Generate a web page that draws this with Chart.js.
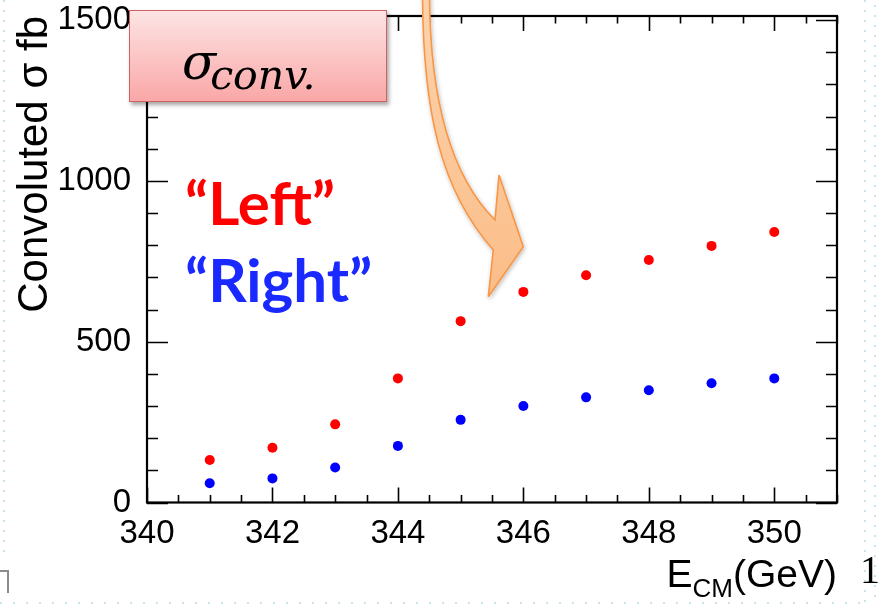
<!DOCTYPE html>
<html>
<head>
<meta charset="utf-8">
<script src="https://cdn.jsdelivr.net/npm/chart.js@4/dist/chart.umd.min.js"></script>
<style>
  html, body { margin: 0; padding: 0; background: #fff; }
  #wrap { position: relative; width: 885px; height: 605px; overflow: hidden; }
  #wrap canvas { position: absolute; left: 0; top: 0; }
  .dots-v { position: absolute; width: 2px;
    background: repeating-linear-gradient(to bottom, #c9e3ec 0 2px, transparent 2px 10px); }
  .dots-h { position: absolute; height: 2px;
    background: repeating-linear-gradient(to right, #c9e3ec 0 2px, transparent 2px 13px); }
  #sigmaBox { position: absolute; left: 129px; top: 10px; width: 256px; height: 90px;
    border: 1.5px solid #cd6262;
    background: linear-gradient(to bottom, #fde4e4, #faa7a7);
    box-shadow: 2px 3px 4px rgba(0,0,0,0.35); }
  #sigmaText { position: absolute; left: 52px; top: 26px; line-height: 1;
    font-family: "DejaVu Serif", serif; font-style: italic; font-size: 50px; color: #000; white-space: nowrap; }
  #sigmaText .sub { font-size: 41px; position: relative; top: 10px; margin-left: -6px; }
  .label { position: absolute; font-family: Lato, sans-serif; font-weight: bold;
    font-size: 60px; line-height: 1; white-space: nowrap; }
  #xTitle { position: absolute; right: 48px; top: 554px; line-height: 1;
    font-family: "Liberation Sans", Arial, sans-serif; font-size: 39px; white-space: nowrap; }
  #xTitle .sub { font-size: 26px; position: relative; top: 10px; }
  #pageNo { position: absolute; left: 860px; top: 550px; line-height: 1;
    font-family: "Liberation Serif", serif; font-size: 40px; }
  #corner { position: absolute; left: 0; top: 570px; width: 7px; height: 21px;
    border-top: 2px solid #8c8c8c; border-right: 2px solid #8c8c8c; }
</style>
</head>
<body>
<div id="wrap">
  <canvas id="chart" width="885" height="605"></canvas>

  <div class="dots-v" style="left:3px; top:0; height:560px;"></div>
  <div class="dots-v" style="left:864px; top:0; height:605px;"></div>
  <div class="dots-v" style="left:874px; top:5px; height:600px;"></div>
  <div class="dots-h" style="left:0; top:602px; width:860px;"></div>
  <div id="corner"></div>

  <div class="label" id="leftLabel" style="left:185px; top:172px; color:#ff0000;">“Left”</div>
  <div class="label" id="rightLabel" style="left:185px; top:249px; color:#1a29ff;">“Right”</div>

  <svg width="885" height="605" style="position:absolute; left:0; top:0;">
    <defs>
      <linearGradient id="arrowFill" x1="0" y1="0" x2="0" y2="1">
        <stop offset="0" stop-color="#fcd3ad"/>
        <stop offset="1" stop-color="#fbbd88"/>
      </linearGradient>
      <filter id="shadow" x="-20%" y="-20%" width="140%" height="140%">
        <feDropShadow dx="1" dy="2" stdDeviation="2" flood-color="#000" flood-opacity="0.25"/>
      </filter>
    </defs>
    <path d="M422.5,-5 C423,110 440,190 493.3,250 L488.3,296.7 L523.3,246.7 L499,175 L495,220 C455,180 430,110 429.5,-5 Z"
          fill="url(#arrowFill)" stroke="#f79646" stroke-width="1.6" stroke-linejoin="miter" filter="url(#shadow)"/>
  </svg>

  <div id="sigmaBox">
    <div id="sigmaText">σ<span class="sub">conv.</span></div>
  </div>

  <div id="xTitle">E<span class="sub">CM</span>(GeV)</div>
  <div id="pageNo">1</div>
</div>

<script>
// centre-of-mass energies (GeV)
const energies = [341, 342, 343, 344, 345, 346, 347, 348, 349, 350];
// convoluted cross sections (fb)
const sigmaLeft  = [132, 170, 243, 386, 564, 655, 707, 754, 798, 841];
const sigmaRight = [ 60,  75, 109, 176, 257, 300, 327, 349, 371, 386];

const xTickLabels = [340, 342, 344, 346, 348, 350];
const yTickLabels = [0, 500, 1000, 1500];

const toPoints = vals => energies.map((e, i) => ({ x: e, y: vals[i] }));

// ROOT style frame with inward ticks on all four sides
const frameTicks = {
  id: 'frameTicks',
  beforeDatasetsDraw(chart) {
    const { ctx, chartArea: a, scales: { x, y } } = chart;
    ctx.save();
    ctx.strokeStyle = '#000';
    ctx.lineWidth = 2.2;
    ctx.strokeRect(a.left, a.top, a.right - a.left, a.bottom - a.top);
    ctx.lineWidth = 1.6;
    ctx.beginPath();
    x.ticks.forEach(t => {
      if (Math.abs(t.value * 2 - Math.round(t.value * 2)) > 1e-6) return;
      const px = Math.round(x.getPixelForValue(t.value)) + 0.5;
      const len = xTickLabels.includes(t.value) ? 15 : 7.5;
      ctx.moveTo(px, a.bottom); ctx.lineTo(px, a.bottom - len);
      ctx.moveTo(px, a.top); ctx.lineTo(px, a.top + len);
    });
    y.ticks.forEach(t => {
      if (t.value % 100 !== 0) return;
      const py = Math.round(y.getPixelForValue(t.value)) + 0.5;
      const len = yTickLabels.includes(t.value) ? 21 : 11;
      ctx.moveTo(a.left, py); ctx.lineTo(a.left + len, py);
      ctx.moveTo(a.right, py); ctx.lineTo(a.right - len, py);
    });
    ctx.stroke();
    ctx.restore();
  }
};

const tickFont = { family: '"Liberation Sans", Arial, sans-serif', size: 33 };

new Chart(document.getElementById('chart'), {
  type: 'scatter',
  data: {
    datasets: [
      { label: 'Left', data: toPoints(sigmaLeft), backgroundColor: '#ff0000', borderWidth: 0, pointRadius: 5 },
      { label: 'Right', data: toPoints(sigmaRight), backgroundColor: '#0000ff', borderWidth: 0, pointRadius: 5 }
    ]
  },
  options: {
    responsive: false,
    animation: false,
    layout: { padding: { top: 16, right: 48, left: 0, bottom: 0 } },
    plugins: { legend: { display: false }, tooltip: { enabled: false } },
    scales: {
      x: {
        type: 'linear', min: 340, max: 351,
        grid: { display: false, drawTicks: false },
        border: { display: false },
        ticks: {
          stepSize: 0.5, autoSkip: false, maxRotation: 0, minRotation: 0, includeBounds: false,
          padding: 12, color: '#000', font: tickFont,
          callback: v => xTickLabels.includes(v) ? String(v) : ''
        },
        afterFit: s => { s.height = 102.5; s.paddingLeft = 0; s.paddingRight = 0; }
      },
      y: {
        type: 'linear', min: 0, max: 1513,
        grid: { display: false, drawTicks: false },
        border: { display: false },
        ticks: {
          stepSize: 100, autoSkip: false, includeBounds: false, padding: 16, color: '#000', font: tickFont,
          callback: v => yTickLabels.includes(v) ? String(v) : ''
        },
        title: {
          display: true, text: 'Convoluted σ fb', align: 'end', color: '#000',
          font: { family: '"Liberation Sans", Arial, sans-serif', size: 42 },
          padding: { top: 10, bottom: 0 }
        },
        afterFit: s => { s.width = 147; s.paddingTop = 0; s.paddingBottom = 0; }
      }
    }
  },
  plugins: [frameTicks]
});
</script>
</body>
</html>
